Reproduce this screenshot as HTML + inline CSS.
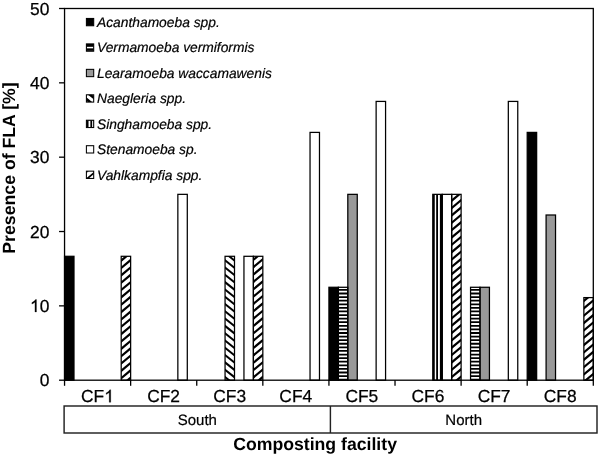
<!DOCTYPE html>
<html><head><meta charset="utf-8"><title>Presence of FLA</title>
<style>html,body{margin:0;padding:0;background:#fff}body{width:600px;height:456px;overflow:hidden}svg{display:block;will-change:transform;filter:grayscale(1)}text{text-rendering:geometricPrecision;font-family:"Liberation Sans",sans-serif;fill:#000}</style>
</head><body>
<svg width="600" height="456" viewBox="0 0 600 456">
<rect width="600" height="456" fill="#fff"/>
<g>
<rect x="64.55" y="256.3" width="9.44" height="123.9" fill="#000"/>
<clipPath id="c1"><rect x="121.2" y="256.3" width="9.44" height="123.9"/></clipPath>
<rect x="121.2" y="256.3" width="9.44" height="123.9" fill="#fff"/>
<path clip-path="url(#c1)" fill="#000" d="M120.2 252.67L131.64 243.13L131.64 245.98L120.2 255.52ZM120.2 260.02L131.64 250.48L131.64 253.33L120.2 262.87ZM120.2 267.37L131.64 257.83L131.64 260.68L120.2 270.22ZM120.2 274.72L131.64 265.18L131.64 268.03L120.2 277.57ZM120.2 282.07L131.64 272.53L131.64 275.38L120.2 284.92ZM120.2 289.42L131.64 279.88L131.64 282.73L120.2 292.27ZM120.2 296.77L131.64 287.23L131.64 290.08L120.2 299.62ZM120.2 304.12L131.64 294.58L131.64 297.43L120.2 306.97ZM120.2 311.47L131.64 301.93L131.64 304.78L120.2 314.32ZM120.2 318.82L131.64 309.28L131.64 312.13L120.2 321.67ZM120.2 326.17L131.64 316.63L131.64 319.48L120.2 329.02ZM120.2 333.52L131.64 323.98L131.64 326.83L120.2 336.37ZM120.2 340.87L131.64 331.33L131.64 334.18L120.2 343.72ZM120.2 348.22L131.64 338.68L131.64 341.53L120.2 351.07ZM120.2 355.57L131.64 346.03L131.64 348.88L120.2 358.42ZM120.2 362.92L131.64 353.38L131.64 356.23L120.2 365.77ZM120.2 370.27L131.64 360.73L131.64 363.58L120.2 373.12ZM120.2 377.62L131.64 368.08L131.64 370.93L120.2 380.47ZM120.2 384.97L131.64 375.43L131.64 378.28L120.2 387.82Z"/>
<rect x="177.85" y="194.35" width="9.44" height="185.85" fill="#fff"/>
<clipPath id="c2"><rect x="225.06" y="256.3" width="9.44" height="123.9"/></clipPath>
<rect x="225.06" y="256.3" width="9.44" height="123.9" fill="#fff"/>
<path clip-path="url(#c2)" fill="#000" d="M224.06 243.62L235.51 252.77L235.51 255.32L224.06 246.17ZM224.06 250.91L235.51 260.06L235.51 262.61L224.06 253.46ZM224.06 258.21L235.51 267.36L235.51 269.91L224.06 260.76ZM224.06 265.5L235.51 274.65L235.51 277.2L224.06 268.05ZM224.06 272.8L235.51 281.95L235.51 284.5L224.06 275.35ZM224.06 280.09L235.51 289.24L235.51 291.79L224.06 282.64ZM224.06 287.39L235.51 296.54L235.51 299.09L224.06 289.94ZM224.06 294.68L235.51 303.83L235.51 306.38L224.06 297.23ZM224.06 301.98L235.51 311.13L235.51 313.68L224.06 304.53ZM224.06 309.27L235.51 318.42L235.51 320.97L224.06 311.82ZM224.06 316.57L235.51 325.72L235.51 328.27L224.06 319.12ZM224.06 323.86L235.51 333.01L235.51 335.56L224.06 326.41ZM224.06 331.16L235.51 340.31L235.51 342.86L224.06 333.71ZM224.06 338.45L235.51 347.6L235.51 350.15L224.06 341ZM224.06 345.75L235.51 354.9L235.51 357.45L224.06 348.3ZM224.06 353.04L235.51 362.19L235.51 364.74L224.06 355.59ZM224.06 360.34L235.51 369.49L235.51 372.04L224.06 362.89ZM224.06 367.63L235.51 376.78L235.51 379.33L224.06 370.18ZM224.06 374.93L235.51 384.08L235.51 386.63L224.06 377.48Z"/>
<rect x="243.95" y="256.3" width="9.44" height="123.9" fill="#fff"/>
<clipPath id="c3"><rect x="253.39" y="256.3" width="9.44" height="123.9"/></clipPath>
<rect x="253.39" y="256.3" width="9.44" height="123.9" fill="#fff"/>
<path clip-path="url(#c3)" fill="#000" d="M252.39 259.24L263.83 249.69L263.83 252.54L252.39 262.09ZM252.39 266.59L263.83 257.04L263.83 259.89L252.39 269.44ZM252.39 273.94L263.83 264.39L263.83 267.24L252.39 276.79ZM252.39 281.29L263.83 271.74L263.83 274.59L252.39 284.14ZM252.39 288.64L263.83 279.09L263.83 281.94L252.39 291.49ZM252.39 295.99L263.83 286.44L263.83 289.29L252.39 298.84ZM252.39 303.34L263.83 293.79L263.83 296.64L252.39 306.19ZM252.39 310.69L263.83 301.14L263.83 303.99L252.39 313.54ZM252.39 318.04L263.83 308.49L263.83 311.34L252.39 320.89ZM252.39 325.39L263.83 315.84L263.83 318.69L252.39 328.24ZM252.39 332.74L263.83 323.19L263.83 326.04L252.39 335.59ZM252.39 340.09L263.83 330.54L263.83 333.39L252.39 342.94ZM252.39 347.44L263.83 337.89L263.83 340.74L252.39 350.29ZM252.39 354.79L263.83 345.24L263.83 348.09L252.39 357.64ZM252.39 362.14L263.83 352.59L263.83 355.44L252.39 364.99ZM252.39 369.49L263.83 359.94L263.83 362.79L252.39 372.34ZM252.39 376.84L263.83 367.29L263.83 370.14L252.39 379.69ZM252.39 384.19L263.83 374.64L263.83 377.49L252.39 387.04Z"/>
<rect x="310.04" y="132.4" width="9.44" height="247.8" fill="#fff"/>
<rect x="328.93" y="287.27" width="9.44" height="92.93" fill="#000"/>
<clipPath id="c4"><rect x="338.37" y="287.27" width="9.44" height="92.93"/></clipPath>
<rect x="338.37" y="287.27" width="9.44" height="92.93" fill="#000"/>
<path clip-path="url(#c4)" fill="#fff" d="M338.37 287.22h9.44v1.8h-9.44ZM338.37 290.81h9.44v1.8h-9.44ZM338.37 294.4h9.44v1.8h-9.44ZM338.37 297.99h9.44v1.8h-9.44ZM338.37 301.58h9.44v1.8h-9.44ZM338.37 305.17h9.44v1.8h-9.44ZM338.37 308.76h9.44v1.8h-9.44ZM338.37 312.35h9.44v1.8h-9.44ZM338.37 315.94h9.44v1.8h-9.44ZM338.37 319.53h9.44v1.8h-9.44ZM338.37 323.12h9.44v1.8h-9.44ZM338.37 326.71h9.44v1.8h-9.44ZM338.37 330.3h9.44v1.8h-9.44ZM338.37 333.89h9.44v1.8h-9.44ZM338.37 337.48h9.44v1.8h-9.44ZM338.37 341.07h9.44v1.8h-9.44ZM338.37 344.66h9.44v1.8h-9.44ZM338.37 348.25h9.44v1.8h-9.44ZM338.37 351.84h9.44v1.8h-9.44ZM338.37 355.43h9.44v1.8h-9.44ZM338.37 359.02h9.44v1.8h-9.44ZM338.37 362.61h9.44v1.8h-9.44ZM338.37 366.2h9.44v1.8h-9.44ZM338.37 369.79h9.44v1.8h-9.44ZM338.37 373.38h9.44v1.8h-9.44ZM338.37 376.97h9.44v1.8h-9.44Z"/>
<rect x="347.81" y="194.35" width="9.44" height="185.85" fill="#999"/>
<rect x="376.13" y="101.42" width="9.44" height="278.78" fill="#fff"/>
<clipPath id="c5"><rect x="432.79" y="194.35" width="9.44" height="185.85"/></clipPath>
<rect x="432.79" y="194.35" width="9.44" height="185.85" fill="#000"/>
<path clip-path="url(#c5)" fill="#fff" d="M434.75 194.35h1.43v185.85h-1.43ZM437.98 194.35h1.92v185.85h-1.92Z"/>
<rect x="442.23" y="194.35" width="9.44" height="185.85" fill="#fff"/>
<clipPath id="c6"><rect x="451.67" y="194.35" width="9.44" height="185.85"/></clipPath>
<rect x="451.67" y="194.35" width="9.44" height="185.85" fill="#fff"/>
<path clip-path="url(#c6)" fill="#000" d="M450.67 192.76L462.11 183.21L462.11 186.06L450.67 195.61ZM450.67 200.11L462.11 190.56L462.11 193.41L450.67 202.96ZM450.67 207.46L462.11 197.91L462.11 200.76L450.67 210.31ZM450.67 214.81L462.11 205.26L462.11 208.11L450.67 217.66ZM450.67 222.16L462.11 212.61L462.11 215.46L450.67 225.01ZM450.67 229.51L462.11 219.96L462.11 222.81L450.67 232.36ZM450.67 236.86L462.11 227.31L462.11 230.16L450.67 239.71ZM450.67 244.21L462.11 234.66L462.11 237.51L450.67 247.06ZM450.67 251.56L462.11 242.01L462.11 244.86L450.67 254.41ZM450.67 258.91L462.11 249.36L462.11 252.21L450.67 261.76ZM450.67 266.26L462.11 256.71L462.11 259.56L450.67 269.11ZM450.67 273.61L462.11 264.06L462.11 266.91L450.67 276.46ZM450.67 280.96L462.11 271.41L462.11 274.26L450.67 283.81ZM450.67 288.31L462.11 278.76L462.11 281.61L450.67 291.16ZM450.67 295.66L462.11 286.11L462.11 288.96L450.67 298.51ZM450.67 303.01L462.11 293.46L462.11 296.31L450.67 305.86ZM450.67 310.36L462.11 300.81L462.11 303.66L450.67 313.21ZM450.67 317.71L462.11 308.16L462.11 311.01L450.67 320.56ZM450.67 325.06L462.11 315.51L462.11 318.36L450.67 327.91ZM450.67 332.41L462.11 322.86L462.11 325.71L450.67 335.26ZM450.67 339.76L462.11 330.21L462.11 333.06L450.67 342.61ZM450.67 347.11L462.11 337.56L462.11 340.41L450.67 349.96ZM450.67 354.46L462.11 344.91L462.11 347.76L450.67 357.31ZM450.67 361.81L462.11 352.26L462.11 355.11L450.67 364.66ZM450.67 369.16L462.11 359.61L462.11 362.46L450.67 372.01ZM450.67 376.51L462.11 366.96L462.11 369.81L450.67 379.36ZM450.67 383.86L462.11 374.31L462.11 377.16L450.67 386.71Z"/>
<clipPath id="c7"><rect x="470.55" y="287.27" width="9.44" height="92.93"/></clipPath>
<rect x="470.55" y="287.27" width="9.44" height="92.93" fill="#000"/>
<path clip-path="url(#c7)" fill="#fff" d="M470.55 287.22h9.44v1.8h-9.44ZM470.55 290.81h9.44v1.8h-9.44ZM470.55 294.4h9.44v1.8h-9.44ZM470.55 297.99h9.44v1.8h-9.44ZM470.55 301.58h9.44v1.8h-9.44ZM470.55 305.17h9.44v1.8h-9.44ZM470.55 308.76h9.44v1.8h-9.44ZM470.55 312.35h9.44v1.8h-9.44ZM470.55 315.94h9.44v1.8h-9.44ZM470.55 319.53h9.44v1.8h-9.44ZM470.55 323.12h9.44v1.8h-9.44ZM470.55 326.71h9.44v1.8h-9.44ZM470.55 330.3h9.44v1.8h-9.44ZM470.55 333.89h9.44v1.8h-9.44ZM470.55 337.48h9.44v1.8h-9.44ZM470.55 341.07h9.44v1.8h-9.44ZM470.55 344.66h9.44v1.8h-9.44ZM470.55 348.25h9.44v1.8h-9.44ZM470.55 351.84h9.44v1.8h-9.44ZM470.55 355.43h9.44v1.8h-9.44ZM470.55 359.02h9.44v1.8h-9.44ZM470.55 362.61h9.44v1.8h-9.44ZM470.55 366.2h9.44v1.8h-9.44ZM470.55 369.79h9.44v1.8h-9.44ZM470.55 373.38h9.44v1.8h-9.44ZM470.55 376.97h9.44v1.8h-9.44Z"/>
<rect x="480" y="287.27" width="9.44" height="92.93" fill="#999"/>
<rect x="508.32" y="101.42" width="9.44" height="278.78" fill="#fff"/>
<rect x="527.21" y="132.4" width="9.44" height="247.8" fill="#000"/>
<rect x="546.09" y="215" width="9.44" height="165.2" fill="#999"/>
<clipPath id="c8"><rect x="583.86" y="297.6" width="9.44" height="82.6"/></clipPath>
<rect x="583.86" y="297.6" width="9.44" height="82.6" fill="#fff"/>
<path clip-path="url(#c8)" fill="#000" d="M582.86 300.37L594.3 290.82L594.3 293.67L582.86 303.22ZM582.86 307.72L594.3 298.17L594.3 301.02L582.86 310.57ZM582.86 315.07L594.3 305.52L594.3 308.37L582.86 317.92ZM582.86 322.42L594.3 312.87L594.3 315.72L582.86 325.27ZM582.86 329.77L594.3 320.22L594.3 323.07L582.86 332.62ZM582.86 337.12L594.3 327.57L594.3 330.42L582.86 339.97ZM582.86 344.47L594.3 334.92L594.3 337.77L582.86 347.32ZM582.86 351.82L594.3 342.27L594.3 345.12L582.86 354.67ZM582.86 359.17L594.3 349.62L594.3 352.47L582.86 362.02ZM582.86 366.52L594.3 356.97L594.3 359.82L582.86 369.37ZM582.86 373.87L594.3 364.32L594.3 367.17L582.86 376.72ZM582.86 381.22L594.3 371.67L594.3 374.52L582.86 384.07ZM582.86 388.57L594.3 379.02L594.3 381.87L582.86 391.42Z"/>
</g>
<g stroke="#000" stroke-width="1.25" fill="none">
<rect x="64.55" y="256.3" width="9.44" height="123.9"/>
<rect x="121.2" y="256.3" width="9.44" height="123.9"/>
<rect x="177.85" y="194.35" width="9.44" height="185.85"/>
<rect x="225.06" y="256.3" width="9.44" height="123.9"/>
<rect x="243.95" y="256.3" width="9.44" height="123.9"/>
<rect x="253.39" y="256.3" width="9.44" height="123.9"/>
<rect x="310.04" y="132.4" width="9.44" height="247.8"/>
<rect x="328.93" y="287.27" width="9.44" height="92.93"/>
<rect x="338.37" y="287.27" width="9.44" height="92.93"/>
<rect x="347.81" y="194.35" width="9.44" height="185.85"/>
<rect x="376.13" y="101.42" width="9.44" height="278.78"/>
<rect x="432.79" y="194.35" width="9.44" height="185.85"/>
<rect x="442.23" y="194.35" width="9.44" height="185.85"/>
<rect x="451.67" y="194.35" width="9.44" height="185.85"/>
<rect x="470.55" y="287.27" width="9.44" height="92.93"/>
<rect x="480" y="287.27" width="9.44" height="92.93"/>
<rect x="508.32" y="101.42" width="9.44" height="278.78"/>
<rect x="527.21" y="132.4" width="9.44" height="247.8"/>
<rect x="546.09" y="215" width="9.44" height="165.2"/>
<rect x="583.86" y="297.6" width="9.44" height="82.6"/>
</g>
<g stroke="#000" stroke-width="1.3" fill="none">
<rect x="64.55" y="8.5" width="528.75" height="371.7"/>
<line x1="59.05" y1="380.2" x2="64.55" y2="380.2"/>
<line x1="59.05" y1="305.86" x2="64.55" y2="305.86"/>
<line x1="59.05" y1="231.52" x2="64.55" y2="231.52"/>
<line x1="59.05" y1="157.18" x2="64.55" y2="157.18"/>
<line x1="59.05" y1="82.84" x2="64.55" y2="82.84"/>
<line x1="59.05" y1="8.5" x2="64.55" y2="8.5"/>
<line x1="64.55" y1="380.2" x2="64.55" y2="385.8"/>
<line x1="130.64" y1="380.2" x2="130.64" y2="385.8"/>
<line x1="196.74" y1="380.2" x2="196.74" y2="385.8"/>
<line x1="262.83" y1="380.2" x2="262.83" y2="385.8"/>
<line x1="328.93" y1="380.2" x2="328.93" y2="385.8"/>
<line x1="395.02" y1="380.2" x2="395.02" y2="385.8"/>
<line x1="461.11" y1="380.2" x2="461.11" y2="385.8"/>
<line x1="527.21" y1="380.2" x2="527.21" y2="385.8"/>
<line x1="593.3" y1="380.2" x2="593.3" y2="385.8"/>
</g>
<g font-size="17.4" text-anchor="end" stroke="#000" stroke-width="0.25">
<text x="49.35" y="386.3">0</text>
<text x="49.35" y="311.96">0</text>
<path d="M36.48 311.96L34.95 311.96L34.95 302.21Q34.4 302.74 33.5 303.27Q32.6 303.8 31.89 304.06L31.89 302.58Q33.17 301.98 34.13 301.12Q35.09 300.26 35.49 299.45L36.48 299.45Z" fill="#000"/>
<text x="49.35" y="237.62">20</text>
<text x="49.35" y="163.28">30</text>
<text x="49.35" y="88.94">40</text>
<text x="49.35" y="14.6">50</text>
</g>
<g font-size="17.4" text-anchor="middle" stroke="#000" stroke-width="0.25">
<text x="81.06" y="402.3" text-anchor="start">CF</text>
<path d="M110.74 402.3L109.21 402.3L109.21 392.55Q108.66 393.08 107.76 393.61Q106.86 394.14 106.15 394.4L106.15 392.92Q107.43 392.32 108.39 391.46Q109.35 390.6 109.75 389.79L110.74 389.79Z" fill="#000"/>
<text x="163.59" y="402.3">CF2</text>
<text x="229.68" y="402.3">CF3</text>
<text x="295.78" y="402.3">CF4</text>
<text x="361.87" y="402.3">CF5</text>
<text x="427.97" y="402.3">CF6</text>
<text x="494.06" y="402.3">CF7</text>
<text x="560.15" y="402.3">CF8</text>
</g>
<g stroke="#222" stroke-width="1.45" fill="none">
<rect x="64.1" y="406" width="532.9" height="27"/>
<line x1="330.4" y1="406" x2="330.4" y2="433"/>
</g>
<g font-size="15" text-anchor="middle" stroke="#000" stroke-width="0.2">
<text x="197.35" y="425">South</text>
<text x="463.7" y="425">North</text>
</g>
<text x="233.15" y="450" font-size="17.66" font-weight="bold">Composting facility</text>
<text transform="translate(15 253.7) rotate(-90)" font-size="17.7" font-weight="bold">Presence of FLA [%]</text>
<rect x="86.4" y="18.45" width="7.3" height="7.3" fill="#000"/>
<rect x="86.4" y="43.9" width="7.3" height="7.3" fill="#000"/>
<rect x="86.4" y="46.83" width="7.3" height="1.5" fill="#fff"/>
<rect x="86.4" y="50.25" width="7.3" height="0.5" fill="#484848"/>
<rect x="86.4" y="69.35" width="7.3" height="7.3" fill="#999"/>
<clipPath id="c9"><rect x="86.4" y="94.8" width="7.3" height="7.3"/></clipPath>
<rect x="86.4" y="94.8" width="7.3" height="7.3" fill="#fff"/>
<path clip-path="url(#c9)" fill="#000" d="M85.4 89.33L94.7 96.77L94.7 100.17L85.4 92.73ZM85.4 96.63L94.7 104.07L94.7 107.47L85.4 100.03Z"/>
<clipPath id="c10"><rect x="86.4" y="120.25" width="7.3" height="7.3"/></clipPath>
<rect x="86.4" y="120.25" width="7.3" height="7.3" fill="#000"/>
<path clip-path="url(#c10)" fill="#fff" d="M84.91 120.25h1.85v7.3h-1.85ZM88.53 120.25h1.85v7.3h-1.85ZM92.15 120.25h1.85v7.3h-1.85Z"/>
<rect x="86.4" y="145.7" width="7.3" height="7.3" fill="#fff"/>
<clipPath id="c11"><rect x="86.4" y="171.15" width="7.3" height="7.3"/></clipPath>
<rect x="86.4" y="171.15" width="7.3" height="7.3" fill="#fff"/>
<path clip-path="url(#c11)" fill="#000" d="M85.4 171.58L94.7 163.82L94.7 166.12L85.4 173.88ZM85.4 178.93L94.7 171.17L94.7 173.47L85.4 181.23ZM85.4 186.28L94.7 178.52L94.7 180.82L85.4 188.58Z"/>
<g stroke="#000" stroke-width="1.05" fill="none">
<rect x="86.4" y="18.45" width="7.3" height="7.3"/>
<rect x="86.4" y="43.9" width="7.3" height="7.3"/>
<rect x="86.4" y="69.35" width="7.3" height="7.3"/>
<rect x="86.4" y="94.8" width="7.3" height="7.3"/>
<rect x="86.4" y="120.25" width="7.3" height="7.3"/>
<rect x="86.4" y="145.7" width="7.3" height="7.3"/>
<rect x="86.4" y="171.15" width="7.3" height="7.3"/>
</g>
<g font-size="13.8" font-style="italic" stroke="#000" stroke-width="0.2">
<text x="97" y="26.8">Acanthamoeba spp.</text>
<text x="97" y="52.25">Vermamoeba vermiformis</text>
<text x="97" y="77.7">Learamoeba waccamawenis</text>
<text x="97" y="103.15">Naegleria spp.</text>
<text x="97" y="128.6">Singhamoeba spp.</text>
<text x="97" y="154.05">Stenamoeba sp.</text>
<text x="97" y="179.5">Vahlkampfia spp.</text>
</g>
</svg>
</body></html>
